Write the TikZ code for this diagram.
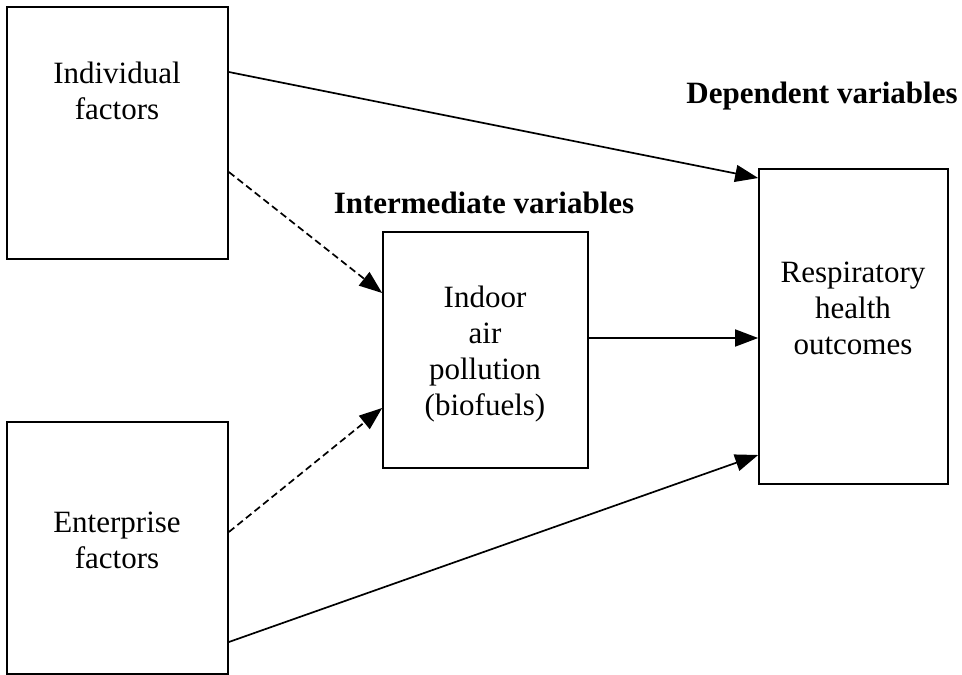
\documentclass[tikz,border=0pt]{standalone}
\usepackage{fontspec}
\setmainfont{Liberation Serif}
\usetikzlibrary{arrows.meta}

\begin{document}
\begin{tikzpicture}[x=1pt, y=-1pt,
    box/.style={draw, line width=1.7pt, inner sep=0pt},
    boxtext/.style={align=center, anchor=base, inner sep=0pt, font=\fontsize{31}{36}\selectfont},
    heading/.style={anchor=base, inner sep=0pt, font=\fontsize{31}{36}\selectfont\bfseries},
    link/.style={line width=1.7pt, -{Triangle[length=23pt, width=17pt]}},
    dashlink/.style={link, dash pattern=on 7pt off 4pt}]
    \useasboundingbox (0,0) rectangle (962,675);

    % Boxes
    \node[box, minimum width=221pt, minimum height=252pt] (indiv) at (117.5,133) {};
    \node[box, minimum width=221pt, minimum height=252pt] (enter) at (117.5,548) {};
    \node[box, minimum width=205pt, minimum height=236pt] (pollution) at (485.5,350) {};
    \node[box, minimum width=189pt, minimum height=315pt] (outcome) at (853.5,326.5) {};

    % Box texts (last baseline)
    \node[boxtext] (indivtext) at (117,119) {Individual\\factors};
    \node[boxtext] (entertext) at (117,568) {Enterprise\\factors};
    \node[boxtext] (pollutiontext) at (485,415) {Indoor\\air\\pollution\\(biofuels)};
    \node[boxtext] (outcometext) at (853,354) {Respiratory\\health\\outcomes};

    % Headings
    \node[heading] (interlabel) at (484,213) {Intermediate variables};
    \node[heading] (deplabel) at (822,103) {Dependent variables};

    % Links
    \draw[link] ([yshift=61pt]indiv.east) -- ([yshift=148.5pt]outcome.west);
    \draw[dashlink] ([yshift=-39pt]indiv.east) -- ([yshift=57pt]pollution.west);
    \draw[dashlink] ([yshift=16pt]enter.east) -- ([yshift=-58pt]pollution.west);
    \draw[link] ([yshift=12pt]pollution.east) -- ([yshift=-11.5pt]outcome.west);
    \draw[link] ([yshift=-94pt]enter.east) -- ([yshift=-128.5pt]outcome.west);
\end{tikzpicture}
\end{document}
